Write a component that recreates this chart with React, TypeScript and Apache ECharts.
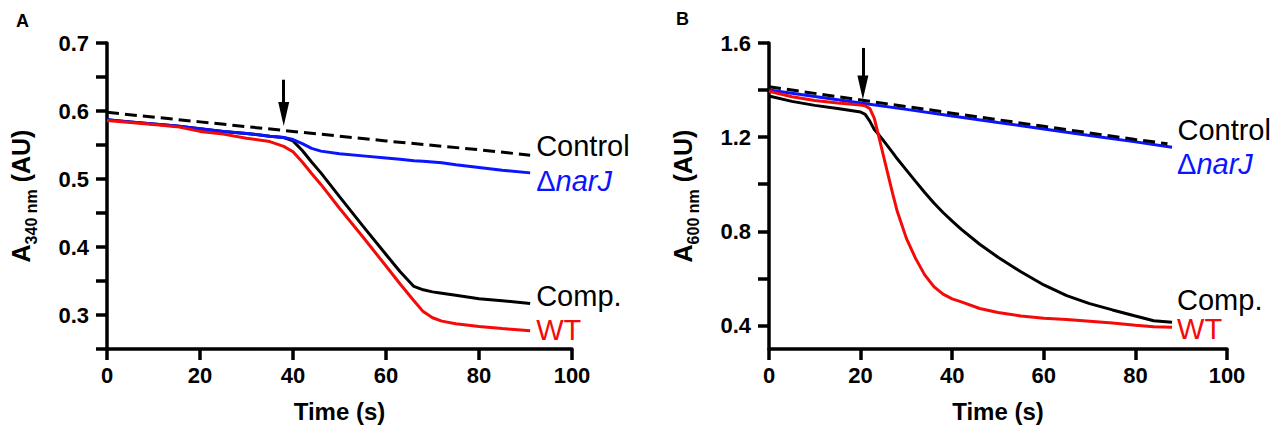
import React, { useEffect, useRef } from "react";
import * as echarts from "echarts";

// ---------- Panel A (A340 nm) ----------
const timeA = [0, 5, 10, 15, 20, 25, 30, 35, 38, 40, 42, 44, 46, 50, 55, 60, 63, 66, 68, 70, 72, 75, 80, 85, 91];
const controlTimeA = [0, 20, 40, 60, 80, 91];
const controlA = [0.598, 0.584, 0.570, 0.556, 0.543, 0.535];
const narJA = [0.587, 0.584, 0.581, 0.578, 0.574, 0.570, 0.567, 0.563, 0.561, 0.558, 0.552, 0.545, 0.541, 0.537, 0.534, 0.531, 0.529, 0.527, 0.526, 0.525, 0.524, 0.521, 0.517, 0.513, 0.509];
const compA = [0.587, 0.584, 0.581, 0.578, 0.574, 0.570, 0.567, 0.563, 0.561, 0.556, 0.542, 0.525, 0.509, 0.474, 0.431, 0.389, 0.364, 0.342, 0.337, 0.334, 0.332, 0.329, 0.324, 0.321, 0.317];
const wtA = [0.586, 0.583, 0.580, 0.577, 0.570, 0.566, 0.560, 0.555, 0.548, 0.540, 0.525, 0.508, 0.492, 0.457, 0.415, 0.372, 0.346, 0.321, 0.305, 0.296, 0.291, 0.287, 0.283, 0.280, 0.277];
const arrowA = { t: 38, top: 0.646, shaftEnd: 0.605, tip: 0.578 };
const yTicksA = [0.25, 0.3, 0.35, 0.4, 0.45, 0.5, 0.55, 0.6, 0.65, 0.7];
const yLabelsA = [0.3, 0.4, 0.5, 0.6, 0.7];

// ---------- Panel B (A600 nm) ----------
const timeB = [0, 5, 10, 15, 20, 21, 22, 23, 24, 25, 26, 27, 28, 30, 32, 34, 36, 38, 40, 42, 46, 50, 55, 60, 65, 70, 75, 80, 84, 88];
const controlTimeB = [0, 20, 40, 60, 80, 87];
const controlB = [1.414, 1.358, 1.302, 1.246, 1.190, 1.172];
const narJTimeB = [0, 10, 20, 30, 40, 50, 60, 70, 80, 88];
const narJB = [1.400, 1.373, 1.345, 1.318, 1.290, 1.262, 1.235, 1.207, 1.180, 1.157];
const compB = [1.375, 1.352, 1.335, 1.322, 1.307, 1.297, 1.268, 1.232, 1.210, 1.185, 1.160, 1.134, 1.108, 1.060, 1.012, 0.965, 0.920, 0.880, 0.843, 0.808, 0.745, 0.690, 0.628, 0.572, 0.527, 0.493, 0.466, 0.440, 0.420, 0.414];
const wtB = [1.395, 1.372, 1.356, 1.345, 1.337, 1.333, 1.322, 1.280, 1.200, 1.120, 1.040, 0.960, 0.885, 0.770, 0.685, 0.615, 0.565, 0.533, 0.513, 0.500, 0.472, 0.455, 0.440, 0.431, 0.425, 0.418, 0.410, 0.401, 0.395, 0.392];
const arrowB = { t: 20.5, top: 1.579, shaftEnd: 1.435, tip: 1.36 };
const yTicksB = [0.4, 0.6, 0.8, 1.0, 1.2, 1.4, 1.6];
const yLabelsB = [0.4, 0.8, 1.2, 1.6];

const xTicks = [0, 20, 40, 60, 80, 100];

const FONT = "Liberation Sans, Arial, sans-serif";
const LABEL_FONT = "Liberation Sans, Arial, sans-serif";
const BLUE = "#0a14ff";
const RED = "#f50a0a";
const BLACK = "#000000";

const pairs = (xs: number[], ys: number[]) => xs.map((x, i) => [x, ys[i]]);

function buildOption() {
  const axisCommon = {
    axisLine: { show: true, onZero: false, lineStyle: { color: BLACK, width: 3.5 } },
    axisTick: { show: true, inside: false, length: 11, lineStyle: { color: BLACK, width: 3.5 } },
    splitLine: { show: false },
  };
  const xAxis = (gi: number) => ({
    type: "value",
    gridIndex: gi,
    min: xTicks[0],
    max: xTicks[xTicks.length - 1],
    interval: 20,
    ...axisCommon,
    axisLabel: { color: BLACK, fontSize: 22, fontWeight: "bold", fontFamily: FONT, margin: 15 },
    name: "Time (s)",
    nameLocation: "middle",
    nameGap: 50,
    nameTextStyle: { color: BLACK, fontSize: 24, fontWeight: "bold", fontFamily: FONT },
  });
  const yAxis = (gi: number, min: number, max: number, ticks: number[], labels: number[], sub: string) => ({
    type: "value",
    gridIndex: gi,
    min,
    max,
    ...axisCommon,
    axisTick: { ...axisCommon.axisTick, customValues: ticks },
    axisLabel: {
      customValues: labels,
      color: BLACK,
      fontSize: 22,
      fontWeight: "bold",
      fontFamily: FONT,
      margin: 18,
      formatter: (v: number) => v.toFixed(1),
    },
    name: `{a|A}{s|${sub} nm}{a| (AU)}`,
    nameLocation: "middle",
    nameGap: 74,
    nameTextStyle: {
      rich: {
        a: { fontSize: 25, fontWeight: "bold", fontFamily: FONT, color: BLACK, lineHeight: 30, verticalAlign: "bottom" },
        s: { fontSize: 16, fontWeight: "bold", fontFamily: FONT, color: BLACK, lineHeight: 30, verticalAlign: "bottom", padding: [0, 0, -6, 0] },
      },
    },
  });

  const endLabel = (text: string, color: string, offset: number[], rich = false) => ({
    show: true,
    formatter: rich ? "{d|Δ}{i|narJ}" : text,
    color,
    fontSize: 29,
    lineHeight: 26,
    fontFamily: LABEL_FONT,
    offset,
    distance: 5,
    rich: rich
      ? {
          d: { fontSize: 29, lineHeight: 26, fontFamily: LABEL_FONT, color },
          i: { fontSize: 29, lineHeight: 26, fontFamily: LABEL_FONT, color, fontStyle: "italic" },
        }
      : undefined,
  });

  const line = (gi: number, name: string, data: number[][], color: string, label: any, dashed = false, extra: any = {}) => ({
    type: "line",
    name,
    xAxisIndex: gi,
    yAxisIndex: gi,
    data,
    showSymbol: false,
    symbol: "none",
    smooth: false,
    silent: true,
    lineStyle: { color, width: 3, type: dashed ? [12, 6] : "solid" },
    itemStyle: { color },
    endLabel: label,
    z: dashed ? 5 : 3,
    ...extra,
  });

  const arrow = (a: { t: number; top: number; shaftEnd: number; tip: number }) => ({
    markLine: {
      silent: true,
      symbol: ["none", "none"],
      label: { show: false },
      lineStyle: { color: BLACK, width: 3, type: "solid" },
      data: [[{ coord: [a.t, a.top] }, { coord: [a.t, a.shaftEnd] }]],
    },
    markPoint: {
      silent: true,
      symbol: "path://M0,0L10,0L5,24Z",
      symbolSize: [11, 24],
      symbolOffset: [0, "-50%"],
      itemStyle: { color: BLACK },
      label: { show: false },
      data: [{ coord: [a.t, a.tip] }],
    },
  });

  return {
    animation: false,
    backgroundColor: "#ffffff",
    grid: [
      { left: 107, top: 43, width: 465, height: 308 },
      { left: 769, top: 43, width: 458, height: 308 },
    ],
    xAxis: [xAxis(0), xAxis(1)],
    yAxis: [
      yAxis(0, 0.25, 0.7, yTicksA, yLabelsA, "340"),
      yAxis(1, 0.3, 1.6, yTicksB, yLabelsB, "600"),
    ],
    graphic: [
      { type: "text", left: 16, top: 12, style: { text: "A", font: `bold 18px ${FONT}`, fill: BLACK } },
      { type: "text", left: 676, top: 10, style: { text: "B", font: `bold 18px ${FONT}`, fill: BLACK } },
    ],
    series: [
      line(0, "Comp.", pairs(timeA, compA), BLACK, endLabel("Comp.", BLACK, [1, -7])),
      line(0, "ΔnarJ", pairs(timeA, narJA), BLUE, endLabel("ΔnarJ", BLUE, [1, 8], true)),
      line(0, "WT", pairs(timeA, wtA), RED, endLabel("WT", RED, [1, -1])),
      line(0, "Control", pairs(controlTimeA, controlA), BLACK, endLabel("Control", BLACK, [1, -9]), true, arrow(arrowA)),
      line(1, "Comp.", pairs(timeB, compB), BLACK, endLabel("Comp.", BLACK, [0, -22])),
      line(1, "ΔnarJ", pairs(narJTimeB, narJB), BLUE, endLabel("ΔnarJ", BLUE, [0, 17], true)),
      line(1, "WT", pairs(timeB, wtB), RED, endLabel("WT", RED, [0, 2])),
      line(1, "Control", pairs(controlTimeB, controlB), BLACK, endLabel("Control", BLACK, [5, -14]), true, arrow(arrowB)),
    ],
  };
}

export default function App() {
  const ref = useRef<HTMLDivElement>(null);
  useEffect(() => {
    if (!ref.current) return;
    const chart = echarts.init(ref.current, null, { renderer: "svg" });
    chart.setOption(buildOption() as any);
    return () => chart.dispose();
  }, []);
  return <div ref={ref} style={{ position: "absolute", left: 0, top: 0, width: 1280, height: 428 }} />;
}
